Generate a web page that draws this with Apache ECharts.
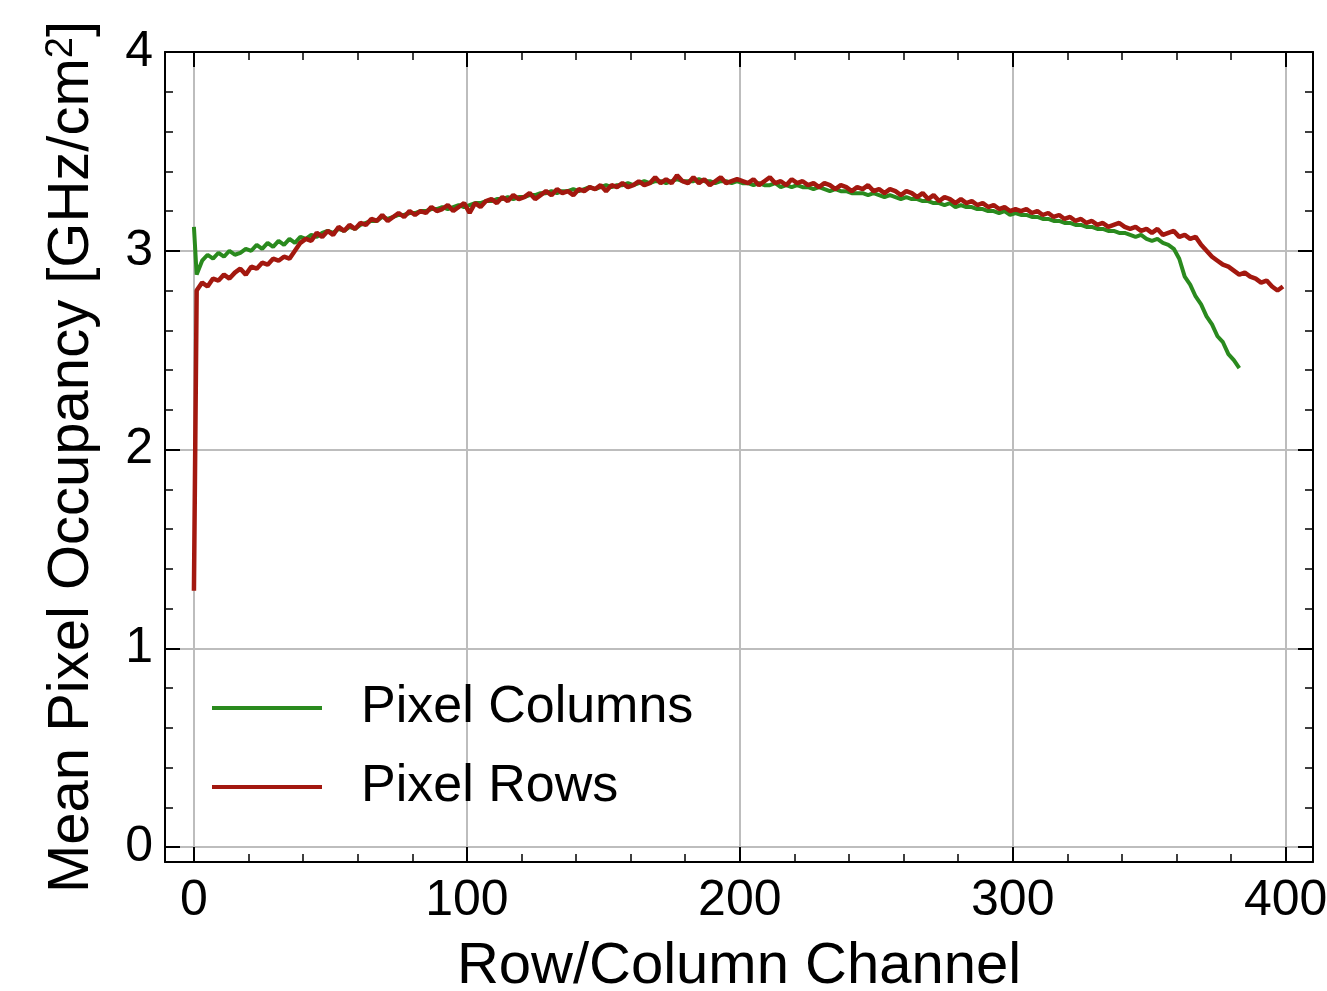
<!DOCTYPE html>
<html>
<head>
<meta charset="utf-8">
<script src="https://cdn.jsdelivr.net/npm/echarts@6/dist/echarts.min.js"></script>
<style>
html, body { margin: 0; padding: 0; background: #fff; }
#chart { width: 1327px; height: 991px; }
</style>
</head>
<body>
<div id="chart"></div>
<script>
// channel numbers: 0, 1, then every odd channel up to the last one
function channelList(last) {
	var list = [0, 1];
	for (var c = 3; c <= last; c += 2) list.push(c);
	return list;
}

var seriesNames = ['Pixel Columns', 'Pixel Rows'];
var xTickLabels = [0, 100, 200, 300, 400];
var yTickLabels = [0, 1, 2, 3, 4];

var colChannels = channelList(383);
var rowChannels = channelList(399);

// mean occupancy per column [GHz/cm2]
var colValues = [3.12, 2.88,
	2.95, 2.98, 2.96, 2.99, 2.97, 3.00, 2.98, 2.99, 3.01, 3.00,
	3.03, 3.01, 3.04, 3.02, 3.05, 3.03, 3.06, 3.04, 3.07, 3.06,
	3.08, 3.07, 3.09, 3.10, 3.09, 3.11, 3.10, 3.12, 3.11, 3.13,
	3.14, 3.15, 3.15, 3.17, 3.16, 3.17, 3.18, 3.18, 3.19, 3.19,
	3.20, 3.20, 3.21, 3.21, 3.22, 3.21, 3.22, 3.23, 3.22, 3.23,
	3.24, 3.24, 3.25, 3.25, 3.26, 3.26, 3.27, 3.26, 3.27, 3.27,
	3.28, 3.28, 3.29, 3.29, 3.30, 3.29, 3.30, 3.30, 3.31, 3.30,
	3.31, 3.32, 3.31, 3.32, 3.33, 3.32, 3.33, 3.33, 3.34, 3.33,
	3.34, 3.35, 3.34, 3.35, 3.35, 3.34, 3.35, 3.36, 3.35, 3.35,
	3.35, 3.36, 3.35, 3.35, 3.34, 3.35, 3.35, 3.34, 3.35, 3.34,
	3.34, 3.33, 3.34, 3.33, 3.33, 3.34, 3.32, 3.33, 3.32, 3.33,
	3.32, 3.32, 3.31, 3.32, 3.31, 3.30, 3.31, 3.30, 3.30, 3.29,
	3.29, 3.29, 3.28, 3.29, 3.28, 3.27, 3.28, 3.27, 3.26, 3.27,
	3.26, 3.26, 3.25, 3.25, 3.24, 3.24, 3.23, 3.24, 3.22, 3.23,
	3.22, 3.22, 3.21, 3.21, 3.20, 3.20, 3.19, 3.20, 3.18, 3.19,
	3.18, 3.18, 3.17, 3.17, 3.16, 3.16, 3.15, 3.15, 3.14, 3.14,
	3.13, 3.13, 3.12, 3.12, 3.11, 3.11, 3.10, 3.10, 3.09, 3.09,
	3.08, 3.07, 3.08, 3.06, 3.05, 3.06, 3.04, 3.03, 3.01, 2.96,
	2.87, 2.83, 2.77, 2.73, 2.67, 2.63, 2.57, 2.54, 2.48, 2.45,
	2.41];

// mean occupancy per row [GHz/cm2]
var rowValues = [1.29, 2.80,
	2.84, 2.82, 2.86, 2.85, 2.88, 2.86, 2.89, 2.91, 2.88, 2.92,
	2.91, 2.94, 2.93, 2.96, 2.95, 2.97, 2.96, 3.00, 3.04, 3.06,
	3.05, 3.09, 3.07, 3.10, 3.08, 3.12, 3.10, 3.13, 3.11, 3.14,
	3.13, 3.16, 3.15, 3.18, 3.15, 3.17, 3.19, 3.17, 3.20, 3.18,
	3.20, 3.19, 3.22, 3.20, 3.21, 3.23, 3.20, 3.22, 3.24, 3.19,
	3.24, 3.22, 3.25, 3.26, 3.24, 3.27, 3.25, 3.28, 3.26, 3.27,
	3.29, 3.26, 3.28, 3.30, 3.28, 3.31, 3.29, 3.30, 3.28, 3.31,
	3.30, 3.32, 3.31, 3.33, 3.30, 3.33, 3.32, 3.34, 3.32, 3.33,
	3.35, 3.33, 3.34, 3.37, 3.34, 3.36, 3.34, 3.38, 3.35, 3.34,
	3.37, 3.34, 3.36, 3.33, 3.35, 3.37, 3.34, 3.35, 3.36, 3.35,
	3.34, 3.36, 3.33, 3.35, 3.37, 3.34, 3.35, 3.33, 3.36, 3.34,
	3.35, 3.33, 3.34, 3.32, 3.34, 3.33, 3.31, 3.33, 3.32, 3.30,
	3.32, 3.31, 3.33, 3.30, 3.31, 3.29, 3.31, 3.30, 3.28, 3.30,
	3.29, 3.27, 3.29, 3.26, 3.28, 3.25, 3.27, 3.26, 3.24, 3.26,
	3.24, 3.25, 3.23, 3.24, 3.22, 3.23, 3.21, 3.22, 3.20, 3.21,
	3.20, 3.21, 3.19, 3.20, 3.18, 3.19, 3.17, 3.18, 3.16, 3.17,
	3.15, 3.16, 3.14, 3.15, 3.13, 3.14, 3.12, 3.13, 3.14, 3.12,
	3.11, 3.12, 3.10, 3.11, 3.09, 3.11, 3.08, 3.09, 3.10, 3.07,
	3.08, 3.06, 3.07, 3.03, 3.00, 2.97, 2.95, 2.93, 2.92, 2.90,
	2.88, 2.89, 2.87, 2.86, 2.84, 2.85, 2.82, 2.80, 2.82];

var FONT = 'Liberation Sans, Arial, Helvetica, sans-serif';

function pairs(xs, ys) {
	var out = [];
	for (var i = 0; i < xs.length; i++) out.push([xs[i], ys[i]]);
	return out;
}

function frameAxis(pos, min, max, labels) {
	var vertical = (pos == 'left' || pos == 'right');
	return {
		type: 'value',
		position: pos,
		min: min,
		max: max,
		splitNumber: 4,
		axisLine: { show: true, onZero: false, lineStyle: { color: '#000', width: 2 } },
		axisTick: { show: true, inside: true, length: 15, lineStyle: { color: '#000', width: 2 } },
		minorTick: { show: true, splitNumber: 5, length: 8, lineStyle: { color: '#000', width: 1.5 } },
		splitLine: { show: labels, lineStyle: { color: '#bdbdbd', width: 2 } },
		axisLabel: {
			show: labels,
			showMinLabel: false,
			showMaxLabel: vertical,
			margin: vertical ? 12 : 14,
			color: '#000',
			fontSize: 50,
			fontFamily: FONT,
			formatter: function(v) {
				var list = vertical ? yTickLabels : xTickLabels;
				return list.indexOf(v) >= 0 ? String(v) : '';
			}
		}
	};
}

var xBottom = frameAxis('bottom', -10.6, 410, true);
xBottom.name = 'Row/Column Channel';
xBottom.nameLocation = 'middle';
xBottom.nameGap = 76;
xBottom.nameTextStyle = { color: '#000', fontSize: 58, fontFamily: FONT };

var yLeft = frameAxis('left', -0.075, 4, true);
yLeft.name = 'Mean Pixel Occupancy [GHz/cm{sup|2}]';
yLeft.nameLocation = 'middle';
yLeft.nameGap = 64;
yLeft.nameTextStyle = {
	color: '#000', fontSize: 58, fontFamily: FONT,
	rich: { sup: { color: '#000', fontSize: 38, fontFamily: FONT, lineHeight: 34, verticalAlign: 'top' } }
};

var option = {
	animation: false,
	backgroundColor: '#fff',
	grid: { left: 165, right: 14, top: 52, bottom: 129, outerBoundsMode: 'none' },
	legend: {
		orient: 'vertical',
		left: 212,
		top: 682,
		padding: 0,
		icon: 'rect',
		itemWidth: 110,
		itemHeight: 4,
		itemGap: 27,
		textStyle: { color: '#000', fontSize: 52, lineHeight: 52, fontFamily: FONT, padding: [0, 0, 0, 34] },
		data: seriesNames
	},
	xAxis: [xBottom, frameAxis('top', -10.6, 410, false)],
	yAxis: [yLeft, frameAxis('right', -0.075, 4, false)],
	series: [
		{
			name: seriesNames[0],
			type: 'line',
			showSymbol: false,
			color: '#2a8a1e',
			lineStyle: { width: 4, color: '#2a8a1e' },
			data: pairs(colChannels, colValues)
		},
		{
			name: seriesNames[1],
			type: 'line',
			showSymbol: false,
			color: '#a3180f',
			lineStyle: { width: 4.5, color: '#a3180f' },
			data: pairs(rowChannels, rowValues)
		}
	]
};

var myChart = echarts.init(document.getElementById('chart'));
myChart.setOption(option);
</script>
</body>
</html>
